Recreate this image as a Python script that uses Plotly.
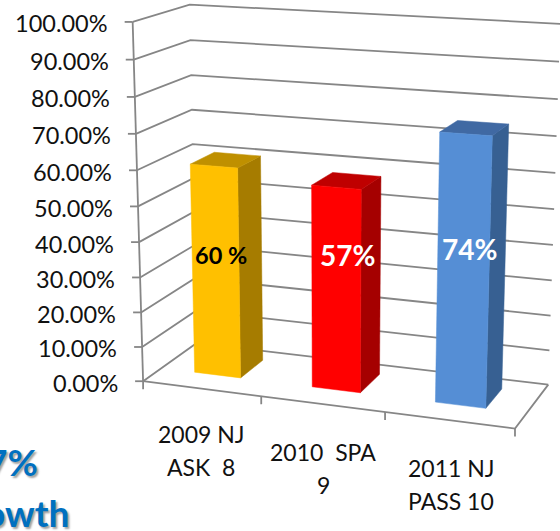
import numpy as np
import plotly.graph_objects as go

# --- data ---
categories = [["2009 NJ", "ASK  8"], ["2010  SPA", "9"], ["2011 NJ", "PASS 10"]]
values = [60, 57, 74]
value_labels = ["60 %", "57%", "74%"]
value_ticks = [0, 10, 20, 30, 40, 50, 60, 70, 80, 90, 100]
front_colors = ["#FFC000", "#FF0000", "#558ED5"]
side_colors = ["#A67C00", "#A50000", "#376092"]
top_colors = ["#BF9000", "#BF0000", "#4069A3"]

FONT = "Lato"
W, H = 560, 531

# --- camera: fitted from where the plot box's corners sit on the page ---
calib = [
    ((0, 0, 0), (144, 380)), ((0, 0, 1), (132, 22)),
    ((0, 1, 0), (196, 345)), ((0, 1, 1), (190, 5)),
    ((1, 1, 0), (548, 383)), ((1, 1, 1), (560, 24)),
    ((1, 0, 0), (515, 430)), ((1 / 3, 0, 0), (261, 396)), ((2 / 3, 0, 0), (385, 412)),
    ((0, 1, .6), (193, 143)), ((1, 1, .6), (556, 173)),
]
A, b = [], []
for (X, Y, Z), (x, y) in calib:
    A.append([X, Y, Z, 1, 0, 0, 0, 0, -x * X, -x * Y, -x * Z]); b.append(x)
    A.append([0, 0, 0, 0, X, Y, Z, 1, -y * X, -y * Y, -y * Z]); b.append(y)
p = np.linalg.lstsq(np.array(A, float), np.array(b, float), rcond=None)[0]
P = np.append(p, 1).reshape(3, 4)


def proj(u, d, v):
    """category fraction, depth fraction, value in percent -> page position"""
    q = P @ np.array([u, d, v / 100, 1.0])
    return q[0] / q[2], q[1] / q[2]


fig = go.Figure()


def line(pts, color="#868686", width=1.8):
    fig.add_trace(go.Scatter(x=[a[0] for a in pts], y=[a[1] for a in pts], mode="lines",
                             line=dict(color=color, width=width), hoverinfo="skip", showlegend=False))


def face(pts, color):
    pts = pts + pts[:1]
    fig.add_trace(go.Scatter(x=[a[0] for a in pts], y=[a[1] for a in pts], mode="lines", fill="toself",
                             fillcolor=color, line=dict(color=color, width=0.5), hoverinfo="skip", showlegend=False))


def text(x, y, s, size, color="#111111", bold=False, anchor="center", shadow=None):
    fig.add_annotation(x=x, y=y, text=f"<b>{s}</b>" if bold else s, showarrow=False, xanchor=anchor,
                       yanchor="middle", font=dict(family=FONT, size=size, color=color, shadow=shadow or "none"))


# walls and gridlines
for v in value_ticks:
    line([proj(0, 0, v), proj(0, 1, v), proj(1, 1, v)])
    x0, y0 = proj(0, 0, v)
    line([(x0 - 8, y0), (x0, y0)])
    text(x0 - 23, y0 + 1.5, f"{v:.2f}%", 23.5, anchor="right")
line([proj(0, 0, 0), proj(0, 0, 100)])
line([proj(0, 0, 0), proj(1, 0, 0), proj(1, 1, 0)])
for i in range(len(categories) + 1):
    x0, y0 = proj(i / len(categories), 0, 0)
    line([(x0, y0), (x0, y0 + 8)])

# bars
n = len(values)
bar_w, d0, d1 = 0.132, 0.33, 0.78
for i, val in enumerate(values):
    c = (i + .5) / n - 0.004
    u0, u1 = c - bar_w / 2, c + bar_w / 2
    face([proj(u1, d0, 0), proj(u1, d1, 0), proj(u1, d1, val), proj(u1, d0, val)], side_colors[i])
    face([proj(u0, d0, val), proj(u1, d0, val), proj(u1, d1, val), proj(u0, d1, val)], top_colors[i])
    face([proj(u0, d0, 0), proj(u1, d0, 0), proj(u1, d0, val), proj(u0, d0, val)], front_colors[i])

# value labels
label_pos = [(221, 255, 23.5, "#000000"), (347, 255, 28, "#FFFFFF"), (469, 249, 28, "#FFFFFF")]
for s, (x, y, size, col) in zip(value_labels, label_pos):
    text(x, y, s, size, col, bold=True)

# category labels
cat_pos = [(201, 434), (323, 452), (451, 468)]
for lines, (x, y) in zip(categories, cat_pos):
    for k, s in enumerate(lines):
        text(x, y + 33 * k, s, 23)

# clipped call-out at lower left
for s, x, y in [("7%", 40, 461), ("owth", 71, 512)]:
    text(x, y, s, 37, "#0070C0", bold=True, anchor="right", shadow="2px 2px 2px #A0A0A0")

fig.update_layout(width=W, height=H, margin=dict(l=0, r=0, t=0, b=0), plot_bgcolor="white", paper_bgcolor="white",
                  xaxis=dict(range=[0, W], visible=False), yaxis=dict(range=[H, 0], visible=False), showlegend=False)
fig.write_html("out.html", config={"displayModeBar": False},
               post_script="document.body.style.margin='0';document.documentElement.style.overflow='hidden';")
